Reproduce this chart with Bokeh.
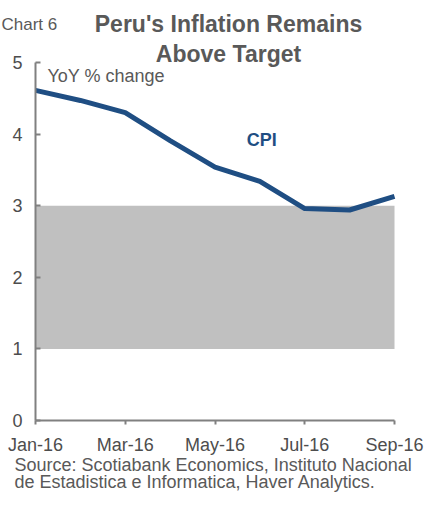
from bokeh.plotting import figure
from bokeh.models import Label, FixedTicker, Range1d
from bokeh.embed import file_html
from bokeh.resources import INLINE

# ---- data ----
months = [0, 1, 2, 3, 4, 5, 6, 7, 8]
month_labels = ["Jan-16", "Feb-16", "Mar-16", "Apr-16", "May-16",
                "Jun-16", "Jul-16", "Aug-16", "Sep-16"]
cpi = [4.61, 4.47, 4.30, 3.91, 3.54, 3.34, 2.96, 2.94, 3.13]
target_low = [1.0]
target_high = [3.0]
x_tick_positions = [0, 2, 4, 6, 8]
y_ticks = [0, 1, 2, 3, 4, 5]

title_lines = ["Peru's Inflation Remains", "Above Target"]
chart_no = "Chart 6"
units_text = "YoY % change"
series_name = "CPI"
source_lines = ["Source: Scotiabank Economics, Instituto Nacional",
                "de Estadistica e Informatica, Haver Analytics."]

FONT = "Liberation Sans"
GREY_TXT = "#595959"
AXIS_GREY = "#808080"
BLUE = "#1F4E83"

W, H = 424, 492
# plotting area in canvas pixels: x 0..8 -> 35..394, y 0..5 -> 420..62
X0, X1 = 35.0, 394.0
Y0, Y1 = 420.0, 62.0
PX_PER_X = (X1 - X0) / (months[-1] - months[0])
PX_PER_Y = (Y0 - Y1) / (y_ticks[-1] - y_ticks[0])

def dx(px):
    return months[0] + (px - X0) / PX_PER_X

def dy(py):
    return y_ticks[0] + (Y0 - py) / PX_PER_Y

p = figure(width=W, height=H, output_backend="svg", toolbar_location=None,
           x_range=Range1d(dx(0), dx(W)), y_range=Range1d(dy(H), dy(0)),
           min_border=0)
p.min_border_left = 0
p.min_border_right = 0
p.min_border_top = 0
p.min_border_bottom = 0
p.title.visible = False
p.outline_line_color = None
p.xgrid.grid_line_color = None
p.ygrid.grid_line_color = None
p.background_fill_color = "white"
p.border_fill_color = "white"

# target band
p.quad(left=[months[0]], right=[months[-1]], bottom=target_low, top=target_high,
       fill_color="#C0C0C0", line_color=None)

# CPI line
p.line(months, cpi, line_color=BLUE, line_width=5, line_join="round", line_cap="butt")

# axes (library axes, pinned at the data origin)
xa = p.xaxis[0]
xa.fixed_location = 0
xa.bounds = (months[0], months[-1])
xa.ticker = FixedTicker(ticks=x_tick_positions)
xa.major_label_overrides = {m: lab for m, lab in zip(months, month_labels)}
xa.axis_line_color = AXIS_GREY
xa.axis_line_width = 2
xa.major_tick_line_color = AXIS_GREY
xa.major_tick_line_width = 2
xa.major_tick_in = 0
xa.major_tick_out = 4
xa.minor_tick_line_color = None
xa.major_label_standoff = 10
xa.major_label_text_font = FONT
xa.major_label_text_font_size = "18px"
xa.major_label_text_color = "#4D4D4D"

ya = p.yaxis[0]
ya.fixed_location = 0
ya.bounds = (y_ticks[0], y_ticks[-1])
ya.ticker = FixedTicker(ticks=y_ticks)
ya.axis_line_color = AXIS_GREY
ya.axis_line_width = 2
ya.major_tick_line_color = AXIS_GREY
ya.major_tick_line_width = 2
ya.major_tick_in = 5
ya.major_tick_out = 0
ya.minor_tick_line_color = None
ya.major_label_standoff = 13
ya.major_label_text_font = FONT
ya.major_label_text_font_size = "18px"
ya.major_label_text_color = "#4D4D4D"

def add_text(txt, x, y, size, color, bold=False, align="left"):
    p.add_layout(Label(x=x, y=y, text=txt, text_font=FONT, text_font_size=size,
                       text_color=color, text_font_style="bold" if bold else "normal",
                       text_align=align, text_baseline="alphabetic"))

add_text(chart_no, dx(1), dy(24), "17px", GREY_TXT)
add_text(title_lines[0], dx(228), dy(23), "23px", GREY_TXT, bold=True, align="center")
add_text(title_lines[1], dx(228), dy(53), "23px", GREY_TXT, bold=True, align="center")
add_text(units_text, dx(47), dy(75.5), "18px", GREY_TXT)
add_text(series_name, 4.71, 3.84 + 5.5 / PX_PER_Y, "18px", BLUE, bold=True)
add_text(source_lines[0], dx(14), dy(464), "18px", GREY_TXT)
add_text(source_lines[1], dx(14), dy(481), "18px", GREY_TXT)

open("out.html", "w").write(file_html(p, INLINE))
